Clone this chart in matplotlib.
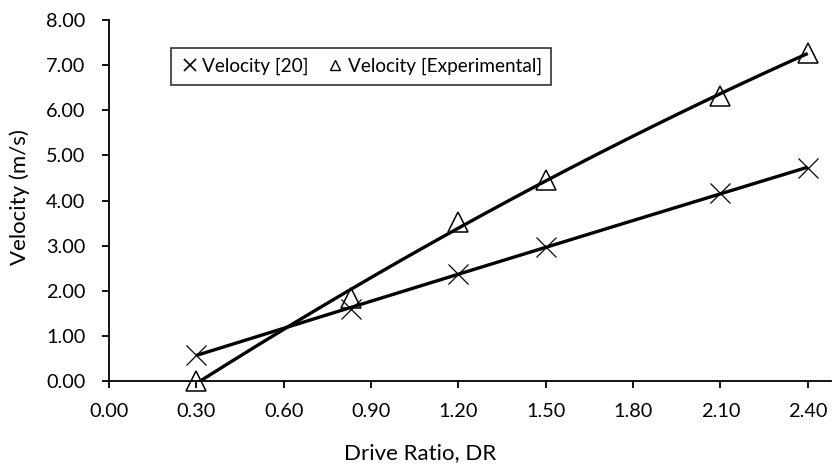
import numpy as np
import matplotlib
matplotlib.use("Agg")
import matplotlib.pyplot as plt
from matplotlib.lines import Line2D

plt.rcParams['font.family'] = ['Lato', 'DejaVu Sans']

drive_ratio = [0.30, 0.83, 1.20, 1.50, 2.10, 2.40]
velocity_ref20 = [0.58, 1.60, 2.37, 2.97, 4.17, 4.72]
velocity_exp = [0.00, 1.84, 3.53, 4.46, 6.32, 7.27]
x_ticks = [0.00, 0.30, 0.60, 0.90, 1.20, 1.50, 1.80, 2.10, 2.40]
y_ticks = [0, 1, 2, 3, 4, 5, 6, 7, 8]

W, H = 833, 466
fig = plt.figure(figsize=(W / 100, H / 100), dpi=100)
ax_l, ax_b, ax_w, ax_h = 109 / W, 1 - 381 / H, 722 / W, 361 / H
ax = fig.add_axes([ax_l, ax_b, ax_w, ax_h])

x = np.array(drive_ratio)
xs = np.linspace(x.min(), x.max(), 200)

# polynomial trendlines
for ys in (velocity_ref20, velocity_exp):
    c = np.polyfit(x, np.array(ys), 2)
    ax.plot(xs, np.polyval(c, xs), color='black', lw=2.4, zorder=3, solid_capstyle='butt')

ax.plot(x, velocity_ref20, linestyle='none', marker='x', markersize=15,
        markeredgewidth=0.9, color='black', zorder=2, clip_on=False)
ax.plot(x, velocity_exp, linestyle='none', marker='^', markersize=14,
        markeredgewidth=1.1, markerfacecolor='none', markeredgecolor='black',
        zorder=2, clip_on=False)

ax.set_xlim(0, 2.48)
ax.set_ylim(0, 8)
ax.set_xticks(x_ticks)
ax.set_xticklabels([f"{v:.2f}" for v in x_ticks])
ax.set_yticks(y_ticks)
ax.set_yticklabels([f"{v:.2f}" for v in y_ticks])
for s in ('top', 'right'):
    ax.spines[s].set_visible(False)
for s in ('left', 'bottom'):
    ax.spines[s].set_linewidth(1.3)
ax.tick_params(axis='both', direction='out', length=5, width=1.3,
               labelsize=14.3, colors='black')
ax.tick_params(axis='y', pad=12)
ax.tick_params(axis='x', pad=11)

ax.set_xlabel('Drive Ratio, DR', fontsize=16, va='center')
ax.xaxis.set_label_coords((420 - 109) / 722, (381 - 453) / 361)
ax.set_ylabel('Velocity (m/s)', fontsize=16, va='center')
ax.yaxis.set_label_coords((20 - 109) / 722, (381 - 197) / 361)

handles = [
    Line2D([], [], linestyle='none', marker='x', markersize=8, markeredgewidth=1.2, color='black'),
    Line2D([], [], linestyle='none', marker='^', markersize=7, markeredgewidth=1.0,
           markerfacecolor='none', markeredgecolor='black'),
]
leg = ax.legend(handles, ['Velocity [20]', 'Velocity [Experimental]'], ncol=2,
                loc='center', bbox_to_anchor=(361 / W, 1 - 66.5 / H),
                bbox_transform=fig.transFigure, fontsize=13.7, frameon=True,
                fancybox=False, edgecolor='black', handlelength=1.0,
                handletextpad=0.15, columnspacing=0.9, borderpad=0.5,
                borderaxespad=0)
leg.get_frame().set_linewidth(1.2)

fig.savefig('out.png', dpi=100)
